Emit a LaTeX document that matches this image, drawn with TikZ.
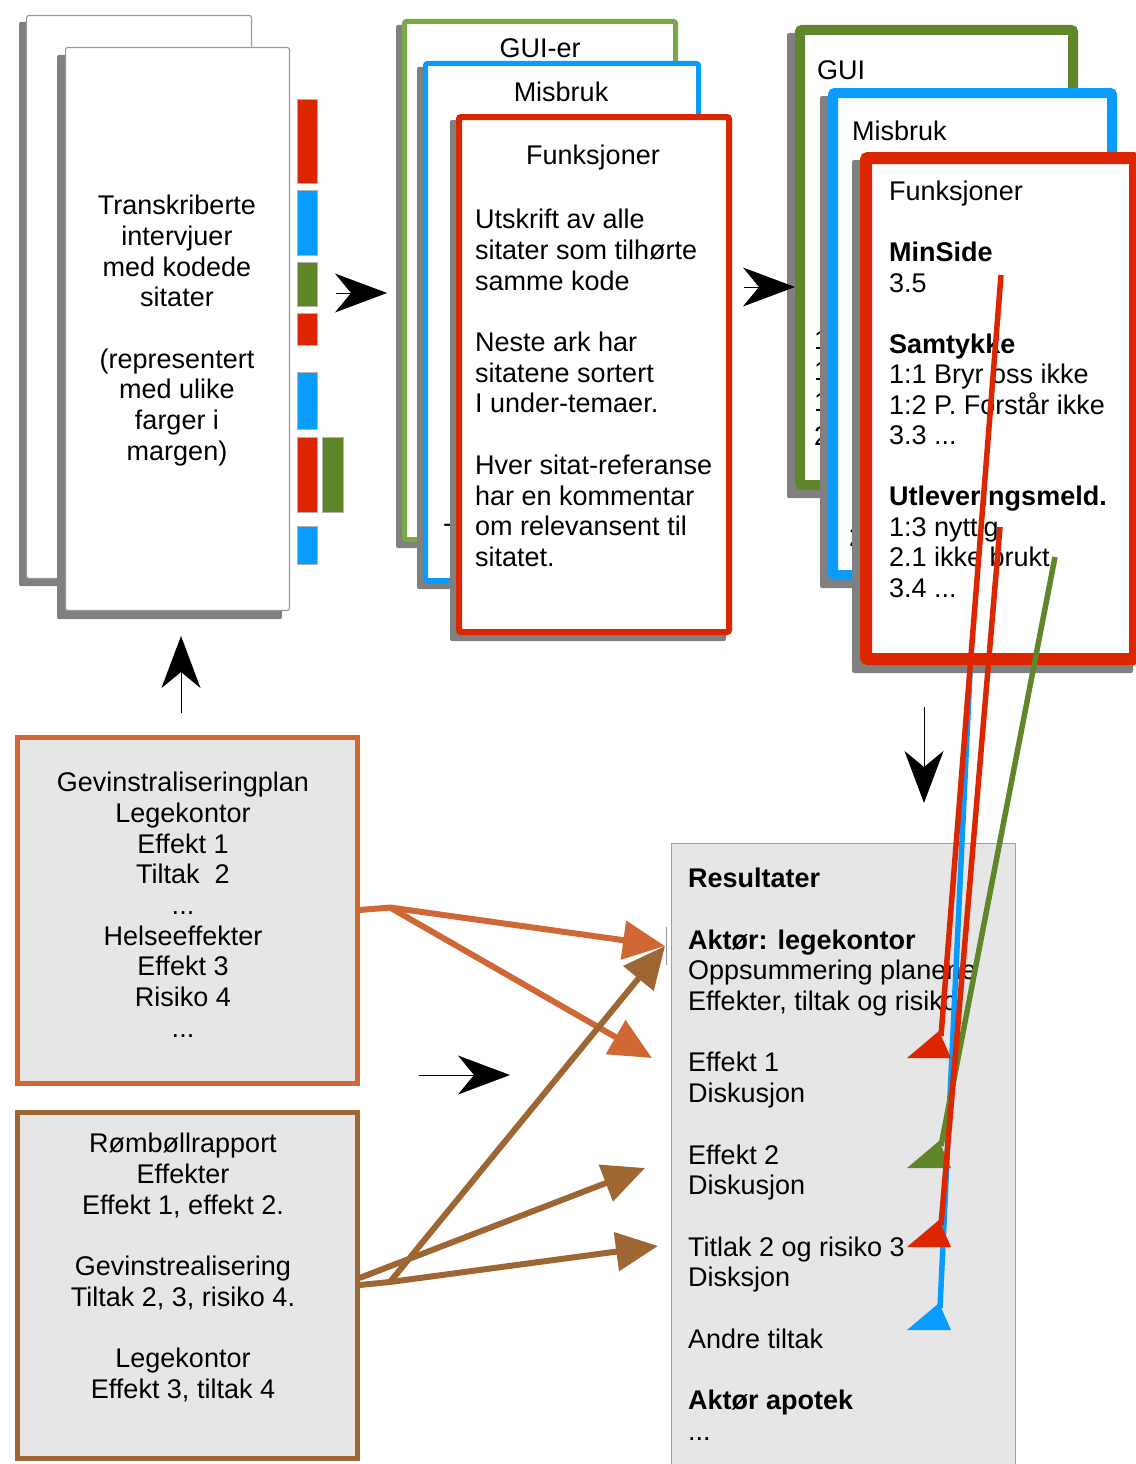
\documentclass[tikz,border=0pt]{standalone}
\usepackage{fontspec}
\setmainfont{Liberation Sans}
\usetikzlibrary{arrows.meta}

\definecolor{codeRed}{RGB}{220,38,0}
\definecolor{codeBlue}{RGB}{10,155,255}
\definecolor{codeGreen}{RGB}{96,134,42}
\definecolor{paleGreen}{RGB}{122,168,72}
\definecolor{planOrange}{RGB}{208,104,54}
\definecolor{reportBrown}{RGB}{157,102,50}
\definecolor{panelGray}{RGB}{230,230,230}
\definecolor{shadowGray}{RGB}{128,128,128}

% sheet of paper: outer corners (#1,#2)-(#3,#4), border colour #5, border width #6, shadow offset #7
\newcommand{\paperSheet}[7]{%
  \fill[shadowGray, rounded corners=2pt] ({#1-#7},{#2+#7}) rectangle ({#3-#7},{#4+#7});
  \draw[fill=white, draw=#5, line width=#6pt, rounded corners=2pt]
    ({#1+#6/2},{#2+#6/2}) rectangle ({#3-#6/2},{#4-#6/2});
}
% coloured end flag of a code line, base at height #2
\newcommand{\codeFlag}[2]{%
  \fill[#1] (907,#2) -- (951,#2) -- (939,{#2-27}) -- cycle;
}

\begin{document}
\begin{tikzpicture}[x=1pt,y=-1pt,
  txt/.style={font=\fontsize{27}{30.7}\selectfont, inner sep=0pt, text=black},
  themetxt/.style={txt, font=\fontsize{27}{30.5}\selectfont},
  marginbar/.style={draw=gray!60, line width=0.8pt},
  bigtip/.style={black, line width=1pt, -{Stealth[length=52pt,width=39pt,inset=16pt]}},
  planline/.style={planOrange, line width=6pt, line join=round, -{Triangle[length=42pt,width=38pt]}},
  reportline/.style={reportBrown, line width=6pt, line join=round, -{Triangle[length=42pt,width=38pt]}},
  codeline/.style={line width=5.5pt},
  sourcebox/.style={fill=panelGray, line width=5pt, anchor=north west, inner sep=0pt,
                    minimum width=340pt, minimum height=346pt},
]
\useasboundingbox (0,0) rectangle (1135,1464);

% ---------- transcribed interviews ----------
\paperSheet{26}{15}{252}{579}{gray!80}{1.2}{7}
\paperSheet{65}{47}{290}{611}{gray!80}{1.2}{8}
\node[txt, align=center, anchor=north] (interviews) at (177,195)
  {Transkriberte\\intervjuer\\med kodede\\sitater\\[30.7pt](representert\\med ulike\\farger i\\margen)};

\fill[codeRed,   marginbar] (297,99)  rectangle (317,183);
\fill[codeBlue,  marginbar] (297,190) rectangle (317,255);
\fill[codeGreen, marginbar] (297,262) rectangle (317,306);
\fill[codeRed,   marginbar] (297,313) rectangle (317,345);
\fill[codeBlue,  marginbar] (297,372) rectangle (317,429);
\fill[codeRed,   marginbar] (297,437) rectangle (317,512);
\fill[codeGreen, marginbar] (322,437) rectangle (343,512);
\fill[codeBlue,  marginbar] (297,526) rectangle (317,564);

% ---------- quotes per code ----------
\paperSheet{402}{19}{678}{542}{paleGreen}{5}{6}
\node[txt] (guiEr) at (540,48) {GUI-er};
\paperSheet{423}{61}{701}{583}{codeBlue}{5}{6}
\node[txt] (misbrukA) at (561,92) {Misbruk};
\node[txt, anchor=west] (dashA) at (443,528) {-};
\paperSheet{456}{114}{732}{635}{codeRed}{6}{6}
\node[txt] (funkA) at (593,158) {Funksjoner};
\node[txt, align=left, anchor=north west] (quoteNote) at (475,209)
  {Utskrift av alle\\sitater som tilhørte\\samme kode\\[30.7pt]Neste ark har\\sitatene sortert\\I under-temaer.\\[30.7pt]Hver sitat-referanse\\har en kommentar\\om relevansent til\\sitatet.};

% ---------- sub-themes ----------
\paperSheet{795}{25}{1078}{490}{codeGreen}{10}{8}
\node[txt, anchor=west] (guiB) at (817,70) {GUI};
\node[txt, anchor=west] (fragA) at (814,340) {1:1};
\node[txt, anchor=west] (fragB) at (814,371) {1:2};
\node[txt, anchor=west] (fragC) at (814,402) {1:3};
\node[txt, anchor=west] (fragD) at (814,436) {2.1};
\paperSheet{828}{88}{1117}{580}{codeBlue}{10}{8}
\node[txt, anchor=west] (misbrukB) at (852,131) {Misbruk};
\node[txt, anchor=west] (fragE) at (849,537) {2.1};
\paperSheet{860}{152}{1141}{665}{codeRed}{12}{8}
\node[themetxt, align=left, anchor=north west] (themes) at (889,181)
  {Funksjoner\\[30.5pt]\textbf{MinSide}\\3.5\\[30.5pt]\textbf{Samtykke}\\1:1 Bryr oss ikke\\1:2 P. Forstår ikke\\3.3 ...\\[30.5pt]\textbf{Utleveringsmeld.}\\1:3 nyttig\\2.1 ikke brukt\\3.4 ...};

% ---------- process arrows ----------
\coordinate (stepAfrom) at (336,293);  \coordinate (stepAto) at (387,293);
\coordinate (stepBfrom) at (744,287);  \coordinate (stepBto) at (795,287);
\coordinate (stepCfrom) at (181,713);  \coordinate (stepCto) at (181,636);
\coordinate (stepDfrom) at (924,707);  \coordinate (stepDto) at (924,803);
\coordinate (stepEfrom) at (419,1075); \coordinate (stepEto) at (510,1075);
\draw[bigtip] (stepAfrom) -- (stepAto);
\draw[bigtip] (stepBfrom) -- (stepBto);
\draw[bigtip] (stepCfrom) -- (stepCto);
\draw[bigtip] (stepDfrom) -- (stepDto);
\draw[bigtip] (stepEfrom) -- (stepEto);

% ---------- source documents ----------
\node[sourcebox, draw=planOrange] (plan) at (14.5,734.5) {};
\node[txt, align=center, anchor=north] (planText) at (183,772)
  {Gevinstraliseringplan\\Legekontor\\Effekt 1\\Tiltak\ \ 2\\...\\Helseeffekter\\Effekt 3\\Risiko 4\\...};
\node[sourcebox, draw=reportBrown] (report) at (14.5,1109.5) {};
\node[txt, align=center, anchor=north] (reportText) at (183,1133)
  {Rømbøllrapport\\Effekter\\Effekt 1, effekt 2.\\[30.7pt]Gevinstrealisering\\Tiltak 2, 3, risiko 4.\\[30.7pt]Legekontor\\Effekt 3, tiltak 4};

% ---------- results ----------
\node[fill=panelGray, draw=gray!75, line width=1.2pt, anchor=north west, inner sep=0pt,
      minimum width=344pt, minimum height=640pt] (results) at (671,843) {};
\node[txt, align=left, anchor=north west] (resultText) at (688,868)
  {\textbf{Resultater}\\[30.7pt]\textbf{Aktør: legekontor}\\Oppsummering planene\\Effekter, tiltak og risiko\\[30.7pt]Effekt 1\\Diskusjon\\[30.7pt]Effekt 2\\Diskusjon\\[30.7pt]Titlak 2 og risiko 3\\Disksjon\\[30.7pt]Andre tiltak\\[30.7pt]\textbf{Aktør apotek}\\...};
\draw[gray!80, line width=1pt] (666,927) -- (666,965);

% ---------- links from the sources ----------
\coordinate (planFork) at (390,907.5);
\coordinate (reportFork) at (390,1282);
\coordinate (aktorIn) at (665,946);
\coordinate (effektOneIn) at (652,1058);
\coordinate (effektTwoIn) at (645,1168);
\coordinate (tiltakIn) at (658,1246);
\draw[planline] (plan.east) -- (planFork) -- (aktorIn);
\draw[planline] (planFork) -- (effektOneIn);
\draw[reportline] ([yshift=7pt]report.east) -- (effektTwoIn);
\draw[reportline] (report.east) -- (reportFork) -- (tiltakIn);
\draw[reportline] (reportFork) -- (aktorIn);

% ---------- links from the themes ----------
\coordinate (minSideSrc) at (1001,275);
\coordinate (nyttigSrc) at (1000,527);
\coordinate (bruktSrc) at (1055,557);
\coordinate (misbrukSrc) at (970,672);
\coordinate (effektOneEnd) at (941,1036);
\coordinate (effektTwoEnd) at (941,1146);
\coordinate (tiltakEnd) at (941,1225);
\coordinate (andreEnd) at (940,1308);
\draw[codeline, codeBlue] (misbrukSrc) -- (andreEnd);
\codeFlag{codeBlue}{1330}
\draw[codeline, codeRed] (minSideSrc) -- (effektOneEnd);
\codeFlag{codeRed}{1058}
\draw[codeline, codeGreen] (bruktSrc) -- (effektTwoEnd);
\codeFlag{codeGreen}{1168}
\draw[codeline, codeRed] (nyttigSrc) -- (tiltakEnd);
\codeFlag{codeRed}{1247}
\end{tikzpicture}
\end{document}
